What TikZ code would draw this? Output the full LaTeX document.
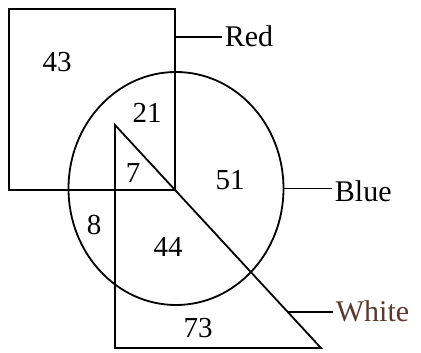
\documentclass[tikz,border=0pt]{standalone}
\usepackage{fontspec}
\setmainfont{Liberation Serif}
\usetikzlibrary{shapes.geometric}
\definecolor{inkbrown}{HTML}{5A3A2E}

\begin{document}
\begin{tikzpicture}[x=1pt, y=-1pt, line width=1.8pt,
  setbox/.style={draw, rectangle, inner sep=0pt},
  setoval/.style={draw, ellipse, inner sep=0pt},
  num/.style={font=\fontsize{29}{32}\selectfont, inner sep=0pt},
  lab/.style={font=\fontsize{30}{33}\selectfont, anchor=base west, inner sep=2pt}]
\useasboundingbox (0,0) rectangle (421,353);
% ----- the three sets -----
\node[setbox, minimum width=166pt, minimum height=181pt] (redset) at (92,99.5) {};
\node[setoval, minimum width=215pt, minimum height=233pt] (blueset) at (176,188.5) {};
\coordinate (wtop) at (115,125);
\coordinate (wleft) at (115,348);
\coordinate (wright) at (321,348);
\draw (wtop) -- (wleft) -- (wright) -- cycle;
% ----- region counts -----
\node[num] (n43) at (57,62) {43};
\node[num] (n21) at (147,113) {21};
\node[num] (n7) at (133,173) {7};
\node[num] (n51) at (230,180) {51};
\node[num] (n8) at (94,225) {8};
\node[num] (n44) at (168,247) {44};
\node[num] (n73) at (198,328) {73};
% ----- set labels -----
\coordinate (redtap) at (175,37);
\coordinate (whitetap) at (288,312);
\node[lab] (redlab) at (222,47) {Red};
\node[lab] (bluelab) at (332,201.5) {Blue};
\node[lab, text=inkbrown] (whitelab) at (333,321.5) {White};
\draw (redtap) -- (redtap -| redlab.west);
\draw (blueset.east) -- (blueset.east -| bluelab.west);
\draw (whitetap) -- (whitetap -| whitelab.west);
\end{tikzpicture}
\end{document}
